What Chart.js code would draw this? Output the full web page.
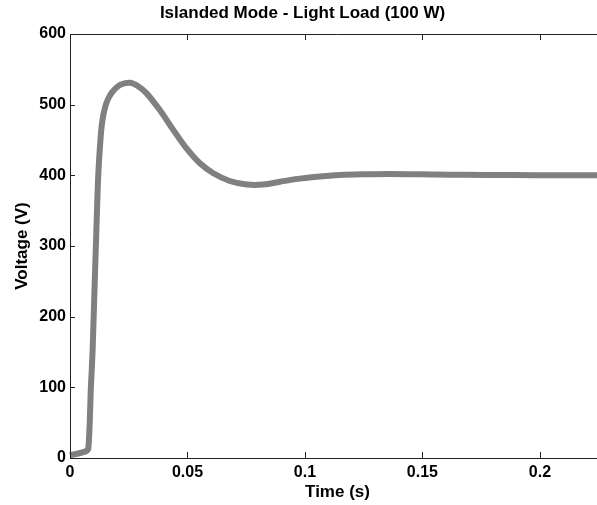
<!DOCTYPE html>
<html>
<head>
<meta charset="utf-8">
<script src="https://cdn.jsdelivr.net/npm/chart.js@4"></script>
<style>
  html, body { margin: 0; padding: 0; background: #fff; overflow: hidden; }
  #wrap { width: 605px; height: 505px; }
</style>
</head>
<body>
<div id="wrap"><canvas id="chart" width="605" height="505"></canvas></div>
<script>
// islanded mode, light load: output voltage step response
const timeS = [0, 0.0064, 0.0078, 0.0089, 0.0096, 0.0103, 0.0112, 0.012, 0.013, 0.0138,
  0.015, 0.0162, 0.018, 0.0213, 0.0255, 0.029, 0.0326, 0.0383, 0.044, 0.0496,
  0.0553, 0.061, 0.068, 0.0752, 0.0823, 0.0894, 0.097, 0.105, 0.115, 0.125,
  0.136, 0.148, 0.162, 0.176, 0.19, 0.205, 0.2277];
const voltage = [4, 9, 14, 101, 150, 225, 320, 398, 452, 478,
  497, 508, 518, 528, 531, 526, 516, 492, 464, 438,
  417, 403, 392, 387, 387, 391, 395, 398, 400.5, 401.5,
  402, 401.5, 401, 400.5, 400.3, 400, 400];

const xTicks = [0, 0.05, 0.1, 0.15, 0.2];
const yTicks = [0, 100, 200, 300, 400, 500, 600];

const FONT = "'Liberation Sans', Arial, sans-serif";
const AXIS = '#222';

// MATLAB-style frame: top edge plus inward tick marks
const frame = {
  id: 'frame',
  afterDraw(chart) {
    const {ctx, chartArea: a, scales: {x, y}} = chart;
    ctx.save();
    ctx.strokeStyle = AXIS;
    ctx.lineWidth = 1;
    ctx.beginPath();
    ctx.moveTo(a.left, a.top + 0.5);
    ctx.lineTo(a.right, a.top + 0.5);
    x.ticks.forEach(t => {
      const px = Math.round(x.getPixelForValue(t.value)) + 0.5;
      ctx.moveTo(px, a.bottom);
      ctx.lineTo(px, a.bottom - 6);
      ctx.moveTo(px, a.top);
      ctx.lineTo(px, a.top + 6);
    });
    y.ticks.forEach(t => {
      const py = Math.round(y.getPixelForValue(t.value)) + 0.5;
      ctx.moveTo(a.left, py);
      ctx.lineTo(a.left + 5, py);
    });
    ctx.stroke();
    ctx.restore();
  }
};

new Chart(document.getElementById('chart'), {
  type: 'line',
  data: {
    datasets: [{
      data: timeS.map((t, i) => ({x: t, y: voltage[i]})),
      borderColor: '#808080',
      borderWidth: 6,
      borderJoinStyle: 'round',
      pointRadius: 0,
      tension: 0.3,
      clip: 6
    }]
  },
  options: {
    responsive: false,
    animation: false,
    devicePixelRatio: 1,
    layout: {padding: {left: 0, right: 0, top: 0, bottom: 0}},
    plugins: {
      legend: {display: false},
      tooltip: {enabled: false},
      title: {
        display: true,
        text: 'Islanded Mode - Light Load (100 W)',
        color: '#000',
        font: {family: FONT, size: 17, weight: 'bold'},
        padding: {top: 3, bottom: 10.6}
      }
    },
    scales: {
      x: {
        type: 'linear',
        min: 0,
        max: 0.2277,
        afterBuildTicks: s => { s.ticks = xTicks.map(v => ({value: v})); },
        afterFit: s => { s.height = 47; },
        grid: {display: false, drawTicks: false},
        border: {display: true, color: AXIS, width: 1},
        ticks: {
          color: '#000',
          padding: 5,
          maxRotation: 0,
          font: {family: FONT, size: 16, weight: 'bold'},
          callback: v => String(+v.toFixed(2))
        },
        title: {
          display: true,
          text: 'Time (s)',
          color: '#000',
          font: {family: FONT, size: 17, weight: 'bold'},
          padding: {top: 0, bottom: 2}
        }
      },
      y: {
        min: 0,
        max: 600,
        afterBuildTicks: s => { s.ticks = yTicks.map(v => ({value: v})); },
        afterFit: s => { s.width = 70; },
        grid: {display: false, drawTicks: false},
        border: {display: true, color: AXIS, width: 1},
        ticks: {
          color: '#000',
          padding: 4,
          font: {family: FONT, size: 16, weight: 'bold'}
        },
        title: {
          display: true,
          text: 'Voltage (V)',
          color: '#000',
          font: {family: FONT, size: 17, weight: 'bold'},
          padding: {top: 12, bottom: 0}
        }
      }
    }
  },
  plugins: [frame]
});
</script>
</body>
</html>
